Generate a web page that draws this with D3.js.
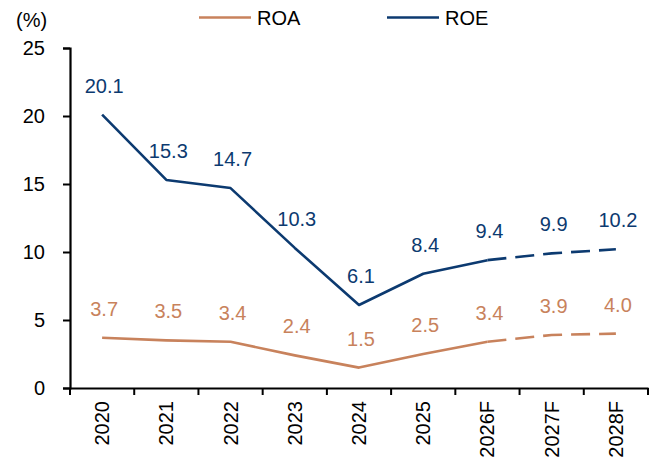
<!DOCTYPE html>
<html>
<head>
<meta charset="utf-8">
<script src="https://cdn.jsdelivr.net/npm/d3@7"></script>
<style>
body { margin: 0; background: #fff; }
text { font-family: "Liberation Sans", Arial, sans-serif; }
</style>
</head>
<body>
<script>
var years = ['2020', '2021', '2022', '2023', '2024', '2025', '2026F', '2027F', '2028F'];
var roa = [3.7, 3.5, 3.4, 2.4, 1.5, 2.5, 3.4, 3.9, 4.0];
var roe = [20.1, 15.3, 14.7, 10.3, 6.1, 8.4, 9.4, 9.9, 10.2];
var yTicks = [0, 5, 10, 15, 20, 25];
var firstForecast = 6; // 2026F, dashed from here on

var ROA_COL = "#C8825C";
var ROE_COL = "#0C3A70";

var svg = d3.select("body").append("svg")
	.attr("width", 658)
	.attr("height", 463);

var x = d3.scaleBand().domain(years).range([70, 648]);
var y = d3.scaleLinear().domain([0, 25]).range([388, 48]);

// axes
var yAxis = svg.append("g")
	.attr("transform", "translate(70,0)")
	.call(d3.axisLeft(y).tickValues(yTicks).tickSize(7).tickPadding(18));

var xAxis = svg.append("g")
	.attr("transform", "translate(0,388)")
	.call(d3.axisBottom(x).tickSize(0).tickPadding(0));

// band edge ticks like excel
xAxis.selectAll(".edge")
	.data(d3.range(years.length + 1))
	.enter().append("line")
	.attr("x1", function(d) { return 70 + d * x.step(); })
	.attr("x2", function(d) { return 70 + d * x.step(); })
	.attr("y1", 0).attr("y2", 7)
	.attr("stroke", "#000").attr("stroke-width", 2);

svg.selectAll(".domain").attr("stroke", "#000").attr("stroke-width", 2.2);
yAxis.selectAll(".tick line").attr("stroke", "#000").attr("stroke-width", 2);
yAxis.selectAll(".tick text").attr("font-size", 20).attr("fill", "#000")
	.style("font-family", "'Liberation Sans', Arial, sans-serif");

xAxis.selectAll(".tick text")
	.attr("font-size", 20).attr("fill", "#000")
	.style("font-family", "'Liberation Sans', Arial, sans-serif")
	.attr("text-anchor", "end")
	.attr("transform", "translate(0,13) rotate(-90)")
	.attr("x", 0).attr("y", 0).attr("dy", "0.35em");

svg.append("text").attr("x", 16).attr("y", 27).attr("font-size", 20).text("(%)");

// lines
var line = d3.line()
	.x(function(d) { return x(d.year) + x.bandwidth() / 2; })
	.y(function(d) { return y(d.v); });

function drawSeries(vals, col) {
	var pts = vals.map(function(v, i) { return { year: years[i], v: v }; });
	svg.append("path")
		.datum(pts.slice(0, firstForecast + 1))
		.attr("d", line)
		.attr("fill", "none").attr("stroke", col).attr("stroke-width", 2.6)
		.attr("stroke-linejoin", "round");
	svg.append("path")
		.datum(pts.slice(firstForecast))
		.attr("d", line)
		.attr("fill", "none").attr("stroke", col).attr("stroke-width", 2.6)
		.attr("stroke-dasharray", "19,9");
	svg.selectAll(null)
		.data(pts)
		.enter().append("text")
		.attr("x", function(d) { return x(d.year) + x.bandwidth() / 2 + 2; })
		.attr("y", function(d) { return y(d.v) - 22; })
		.attr("text-anchor", "middle")
		.attr("font-size", 20)
		.attr("fill", col)
		.text(function(d) { return d.v.toFixed(1); });
}

drawSeries(roa, ROA_COL);
drawSeries(roe, ROE_COL);

// legend
var legend = [{ name: "ROA", col: ROA_COL, x: 199 }, { name: "ROE", col: ROE_COL, x: 387 }];
var lg = svg.selectAll(".lg").data(legend).enter().append("g");
lg.append("line")
	.attr("x1", function(d) { return d.x; })
	.attr("x2", function(d) { return d.x + 52; })
	.attr("y1", 17.5).attr("y2", 17.5)
	.attr("stroke", function(d) { return d.col; }).attr("stroke-width", 2.6);
lg.append("text")
	.attr("x", function(d) { return d.x + 58; })
	.attr("y", 25)
	.attr("font-size", 20)
	.text(function(d) { return d.name; });
</script>
</body>
</html>
